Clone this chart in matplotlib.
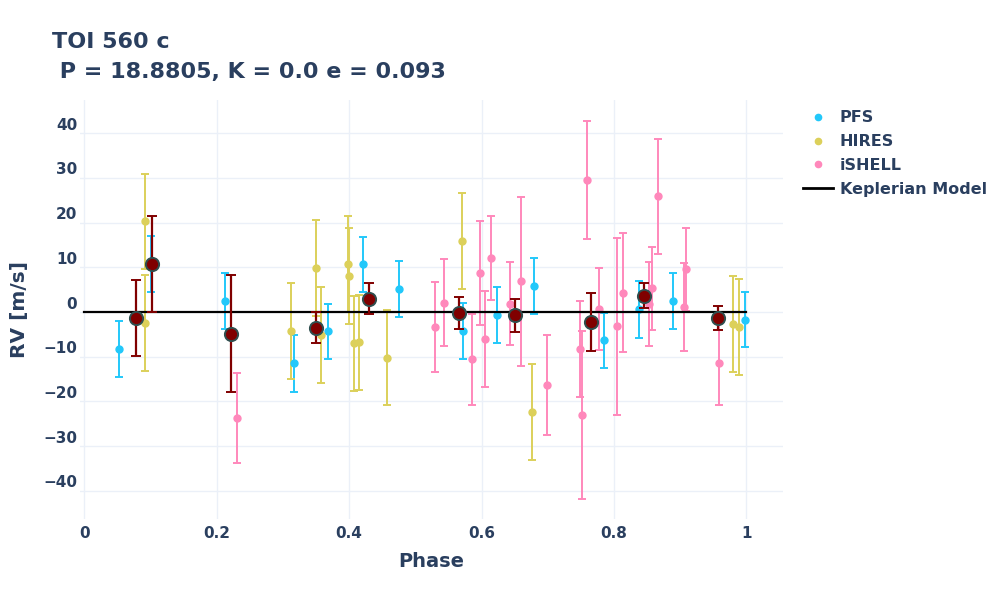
import numpy as np
import matplotlib.pyplot as plt
import matplotlib.transforms as mtransforms
from matplotlib.lines import Line2D

# phase, RV [m/s], error
pfs_phase = [0.052, 0.100, 0.212, 0.316, 0.368, 0.421, 0.475, 0.572, 0.623, 0.679,
             0.785, 0.8375, 0.889, 0.9985]
pfs_rv = [-8.3, 10.8, 2.5, -11.5, -4.3, 10.7, 5.1, -4.3, -0.7, 5.8,
          -6.3, 0.6, 2.5, -1.7]
pfs_err = [6.3, 6.3, 6.3, 6.3, 6.2, 6.2, 6.3, 6.3, 6.2, 6.3,
           6.2, 6.3, 6.3, 6.2]

hires_phase = [0.092, 0.092, 0.312, 0.350, 0.357, 0.398, 0.400, 0.408, 0.415, 0.457,
               0.5705, 0.676, 0.980, 0.9885]
hires_rv = [20.3, -2.5, -4.2, 9.9, -5.1, 10.8, 8.05, -7.0, -6.8, -10.2,
            15.95, -22.4, -2.7, -3.4]
hires_err = [10.7] * 14

ishell_phase = [0.230, 0.530, 0.543, 0.585, 0.598, 0.605, 0.614, 0.6426, 0.659, 0.6985,
                0.749, 0.752, 0.760, 0.778, 0.805, 0.813, 0.8535, 0.857, 0.866, 0.906,
                0.909, 0.9588]
ishell_rv = [-23.7, -3.3, 2.1, -10.6, 8.7, -6.1, 12.1, 1.9, 6.9, -16.3,
             -8.2, -23.0, 29.5, 0.75, -3.2, 4.3, 1.8, 5.3, 25.9, 1.1,
             9.6, -11.3]
ishell_err = [10.1, 10.0, 9.8, 10.1, 11.6, 10.7, 9.4, 9.2, 18.9, 11.1,
              10.7, 18.8, 13.2, 9.2, 19.8, 13.3, 9.4, 9.3, 12.9, 9.9,
              9.3, 9.5]

bin_phase = [0.0786, 0.103, 0.2216, 0.350, 0.4296, 0.5666, 0.650, 0.765, 0.846, 0.9568]
bin_rv = [-1.3, 10.8, -4.8, -3.5, 3.0, -0.2, -0.7, -2.2, 3.7, -1.3]
bin_err = [8.5, 10.8, 13.1, 3.5, 3.5, 3.65, 3.7, 6.45, 2.7, 2.65]

model_phase = [0.0, 1.0]
model_rv = [0.0, 0.0]

txt = '#2a3f5f'
plt.rcParams['font.family'] = ['DejaVu Sans']
plt.rcParams['font.weight'] = 'bold'

fig = plt.figure(figsize=(10, 6), dpi=100)
ax = fig.add_axes([0.08, 0.135, 0.703, 0.698])

sets = [
    (pfs_phase, pfs_rv, pfs_err, '#22c8fa', 'PFS'),
    (hires_phase, hires_rv, hires_err, '#dcd05a', 'HIRES'),
    (ishell_phase, ishell_rv, ishell_err, '#ff88bb', 'iSHELL'),
]
handles = []
for ph, rv, er, col, name in sets:
    ax.errorbar(ph, rv, yerr=er, fmt='o', color=col, ms=5, elinewidth=1.4,
                capsize=3.2, capthick=1.4, zorder=3)
    handles.append(Line2D([], [], ls='none', marker='o', color=col, ms=4.5, label=name))

ax.plot(model_phase, model_rv, color='black', lw=1.6, zorder=4)
handles.append(Line2D([], [], color='black', lw=2, label='Keplerian Model'))

ax.errorbar(bin_phase, bin_rv, yerr=bin_err, fmt='o', color='#800000', ms=9.5,
            mec='#2f4f4f', mew=1.4, elinewidth=1.6, capsize=3.5, capthick=1.6, zorder=5)

ax.set_xlim(-0.0065, 1.0554)
ax.set_ylim(-46.3, 47.4)
ax.set_xticks([0, 0.2, 0.4, 0.6, 0.8, 1.0])
ax.set_xticklabels(['0', '0.2', '0.4', '0.6', '0.8', '1'])
ax.set_yticks(np.arange(-40, 41, 10))
ax.grid(True, color='#ebf0f8', lw=1)
ax.set_axisbelow(True)
for s in ax.spines.values():
    s.set_visible(False)
ax.tick_params(axis='both', length=0, labelsize=11, labelcolor=txt)
ax.tick_params(axis='x', pad=5)
ax.tick_params(axis='y', pad=2)

# y tick labels sit a little above their grid lines in the reference
shift = mtransforms.ScaledTranslation(0, 0.095, fig.dpi_scale_trans)
for lab in ax.get_yticklabels():
    lab.set_transform(lab.get_transform() + shift)

ax.set_xlabel('Phase', fontsize=14, color=txt, fontweight='bold', labelpad=8)
ax.set_ylabel('RV [m/s]', fontsize=14.5, color=txt, fontweight='bold', labelpad=10)

fig.text(0.052, 0.93, 'TOI 560 c', fontsize=16, color=txt, fontweight='bold', va='center')
fig.text(0.052, 0.8805, ' P = 18.8805, K = 0.0 e = 0.093', fontsize=16, color=txt,
         fontweight='bold', va='center')

leg = fig.legend(handles=handles, loc='upper left', bbox_to_anchor=(0.803, 0.816),
                 frameon=False, fontsize=11.5, handlelength=1.9, handletextpad=0.4,
                 labelspacing=0.55, borderpad=0, borderaxespad=0)
for t in leg.get_texts():
    t.set_color(txt)

fig.savefig('out.png', dpi=100)
